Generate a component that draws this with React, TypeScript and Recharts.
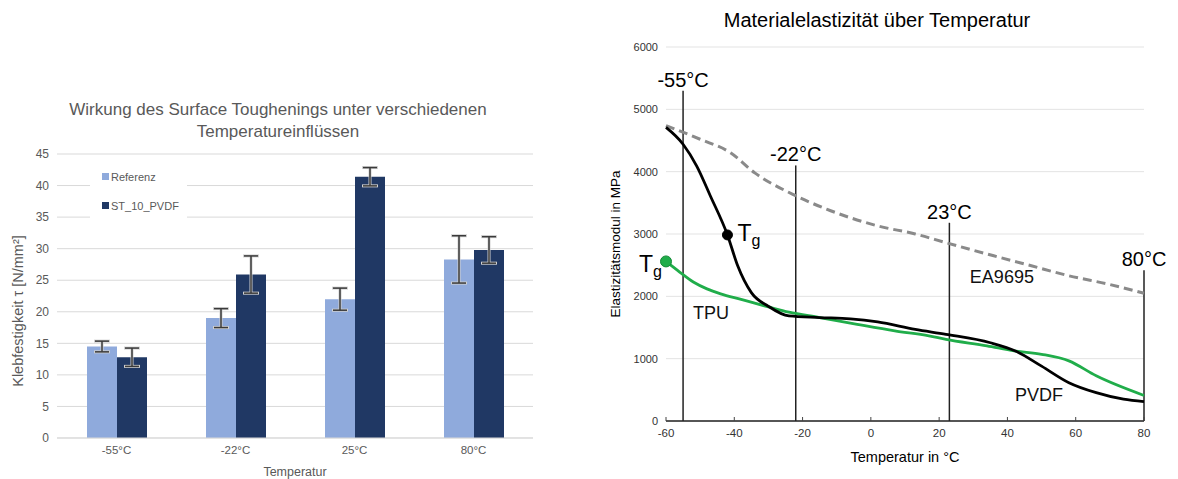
import React from "react";
import {
  BarChart, Bar, XAxis, YAxis, CartesianGrid, ErrorBar, Legend,
  LineChart, Line, ReferenceLine, ReferenceDot,
} from "recharts";

// ---- left chart: Klebfestigkeit
const categories = ["-55°C", "-22°C", "25°C", "80°C"];
const referenz = [14.5, 19.0, 22.0, 28.3];
const referenzErr = [0.85, 1.5, 1.75, 3.75];
const stPvdf = [12.8, 25.9, 41.4, 29.8];
const stPvdfErr = [1.45, 2.95, 1.45, 2.1];
const strengthTicks = [0, 5, 10, 15, 20, 25, 30, 35, 40, 45];

// ---- right chart: E-Modul über Temperatur
const tempTicks = [-60, -40, -20, 0, 20, 40, 60, 80];
const modulusTicks = [0, 1000, 2000, 3000, 4000, 5000, 6000];

const eaTemp = [-60, -50, -41, -34, -23, -13, 2, 13, 22, 36, 47, 58, 70, 80];
const eaMod = [4740, 4520, 4300, 3980, 3640, 3400, 3130, 3000, 2860, 2650, 2490, 2330, 2190, 2050];

const pvdfTemp = [-60, -55, -51, -47, -42, -39, -35, -30, -24, -15, -6, 2, 13, 22, 35, 42.5, 50, 58, 66, 74, 80];
const pvdfMod = [4710, 4440, 4090, 3610, 2985, 2490, 2060, 1840, 1685, 1660, 1640, 1590, 1470, 1390, 1255, 1120, 880, 615, 455, 350, 310];

const tpuTemp = [-60, -56, -52, -48, -44, -38, -30, -24, -15, -4, 7, 17, 22, 34, 42, 50, 58, 66, 80];
const tpuMod = [2560, 2390, 2230, 2120, 2040, 1950, 1830, 1745, 1660, 1550, 1445, 1365, 1310, 1205, 1125, 1070, 965, 725, 410];

const markerTemps = [-55, -22, 23, 80];
const markerTops = [5300, 4100, 3180, 2420];
const markerLabels = ["-55°C", "-22°C", "23°C", "80°C"];

const curveLabels = ["TPU", "EA9695", "PVDF"];
const curveLabelTemp = [-52.1, 29, 42.2];
const curveLabelMod = [1745, 2315, 420];

const tgTemp = [-42, -60];
const tgMod = [2985, 2560];

const ARIAL = "'Liberation Sans', Arial, sans-serif";

// note: a data field called "ref" would end up as a React ref on the bar path
const barRows = categories.map((c, i) => ({
  name: c,
  referenz: referenz[i],
  referenzErr: referenzErr[i],
  st: stPvdf[i],
  stErr: stPvdfErr[i],
}));

const toPts = (t: number[], e: number[]) => t.map((x, i) => ({ t: x, e: e[i] }));
const eaData = toPts(eaTemp, eaMod);
const pvdfData = toPts(pvdfTemp, pvdfMod);
const tpuData = toPts(tpuTemp, tpuMod);

function LegendBox({ payload }: any) {
  return (
    <div style={{ background: "#fff", width: 97, height: 62 }}>
      {(payload || []).map((p: any, i: number) => (
        <div key={i} style={{ display: "flex", alignItems: "center", height: 29, paddingLeft: 12, fontSize: 11, color: "#595959", fontFamily: ARIAL }}>
          <span style={{ display: "inline-block", width: 7, height: 7, background: p.color, marginRight: 2 }} />
          {p.value}
        </div>
      ))}
    </div>
  );
}

function TgText({ viewBox, side }: any) {
  const cx = viewBox.x + viewBox.width / 2;
  const cy = viewBox.y + viewBox.height / 2;
  const x = side === "right" ? cx + 10 : cx - 27;
  const y = side === "right" ? cy + 6 : cy + 11;
  return (
    <text x={x} y={y} fontSize={23} fill="#000" fontFamily={ARIAL}>
      T<tspan fontSize={16} dy={5}>g</tspan>
    </text>
  );
}

export default function App() {
  return (
    <div style={{ position: "absolute", left: 0, top: 0, width: 1178, height: 479, background: "#fff", overflow: "hidden" }}>
      {/* left chart */}
      <div style={{ position: "absolute", left: 0, top: 0, width: 560, height: 479 }}>
        <div style={{ position: "absolute", left: 0, width: 556, top: 99, textAlign: "center", fontFamily: ARIAL, fontSize: 17, lineHeight: "22px", color: "#595959" }}>
          Wirkung des Surface Toughenings unter verschiedenen<br />Temperatureinflüssen
        </div>
        <BarChart width={560} height={479} data={barRows} margin={{ top: 154, right: 27, left: 0, bottom: 0 }} barCategoryGap={30} barGap={0}>
          <CartesianGrid vertical={false} stroke="#d9d9d9" />
          <XAxis dataKey="name" height={41} tickLine={false} axisLine={{ stroke: "#d9d9d9" }}
            tick={{ fill: "#595959", fontSize: 11.5, fontFamily: ARIAL }}
            label={{ value: "Temperatur", position: "insideBottom", offset: 3, fill: "#595959", fontSize: 12.5, fontFamily: ARIAL }} />
          <YAxis width={57} domain={[0, 45]} ticks={strengthTicks} axisLine={false} tickLine={false}
            tick={{ fill: "#595959", fontSize: 12, fontFamily: ARIAL }}
            label={{
              content: () => (
                <text transform="translate(18,311) rotate(-90)" textAnchor="middle" dominantBaseline="central" fill="#595959" fontSize={14.5} fontFamily={ARIAL}>
                  Klebfestigkeit τ [N/mm²]
                </text>
              ),
            }} />
          <Legend layout="vertical" align="center" verticalAlign="middle" content={LegendBox}
            wrapperStyle={{ left: 90, top: 162, width: 97, height: 62 }} />
          <Bar dataKey="referenz" name="Referenz" fill="#8faadc" isAnimationActive={false}>
            <ErrorBar dataKey="referenzErr" width={8} strokeWidth={3} stroke="#d0d0d0" />
            <ErrorBar dataKey="referenzErr" width={7} strokeWidth={1.5} stroke="#3a3a3a" />
          </Bar>
          <Bar dataKey="st" name="ST_10_PVDF" fill="#203864" isAnimationActive={false}>
            <ErrorBar dataKey="stErr" width={8} strokeWidth={3} stroke="#d0d0d0" />
            <ErrorBar dataKey="stErr" width={7} strokeWidth={1.5} stroke="#3a3a3a" />
          </Bar>
        </BarChart>
      </div>

      {/* right chart */}
      <div style={{ position: "absolute", left: 600, top: 0, width: 578, height: 479 }}>
        <div style={{ position: "absolute", left: 0, width: 554, top: 8, textAlign: "center", fontFamily: ARIAL, fontSize: 20, lineHeight: "24px", color: "#000" }}>
          Materialelastizität über Temperatur
        </div>
        <LineChart width={578} height={479} margin={{ top: 47, right: 34, left: 0, bottom: 0 }}>
          <CartesianGrid vertical={false} stroke="#e3e3e3" />
          <XAxis dataKey="t" type="number" domain={[-60, 80]} ticks={tempTicks} height={58}
            axisLine={{ stroke: "#222", strokeWidth: 1.5 }} tickLine={{ stroke: "#444" }} tickSize={-4} tickMargin={12}
            tick={{ fill: "#333", fontSize: 11.5, fontFamily: ARIAL }}
            label={{ value: "Temperatur in °C", position: "insideBottom", offset: 17, fill: "#000", fontSize: 14.5, fontFamily: ARIAL }} />
          <YAxis dataKey="e" type="number" domain={[0, 6000]} ticks={modulusTicks} width={66} axisLine={false} tickLine={false}
            tick={{ fill: "#333", fontSize: 11, fontFamily: ARIAL }}
            label={{
              content: () => (
                <text transform="translate(15,244) rotate(-90)" textAnchor="middle" dominantBaseline="central" fill="#000" fontSize={13.5} fontFamily={ARIAL}>
                  Elastizitätsmodul in MPa
                </text>
              ),
            }} />
          {markerTemps.map((t, i) => (
            <ReferenceLine key={markerLabels[i]} segment={[{ x: t, y: 0 }, { x: t, y: markerTops[i] }]}
              stroke="#222" strokeWidth={1.5} ifOverflow="visible"
              label={{ value: markerLabels[i], position: "top", offset: 4, fill: "#000", fontSize: 20, fontFamily: ARIAL }} />
          ))}
          <Line data={eaData} dataKey="e" type="monotone" stroke="#8a8a8a" strokeWidth={3} strokeDasharray="9 5" dot={false} isAnimationActive={false} />
          <Line data={tpuData} dataKey="e" type="monotone" stroke="#20ad4a" strokeWidth={2.8} dot={false} isAnimationActive={false} />
          <Line data={pvdfData} dataKey="e" type="monotone" stroke="#000" strokeWidth={2.8} dot={false} isAnimationActive={false} />
          {curveLabels.map((s, i) => (
            <ReferenceDot key={s} x={curveLabelTemp[i]} y={curveLabelMod[i]} r={0} fill="none" stroke="none"
              label={{ value: s, position: "right", offset: 0, fill: "#111", fontSize: 18, fontFamily: ARIAL }} />
          ))}
          <ReferenceDot x={tgTemp[0]} y={tgMod[0]} r={5} fill="#000" stroke="#000"
            label={(p: any) => <TgText viewBox={p.viewBox} side="right" />} />
          <ReferenceDot x={tgTemp[1]} y={tgMod[1]} r={5.5} fill="#20ad4a" stroke="#158a38" strokeWidth={1} ifOverflow="visible"
            label={(p: any) => <TgText viewBox={p.viewBox} side="left" />} />
        </LineChart>
      </div>
    </div>
  );
}
